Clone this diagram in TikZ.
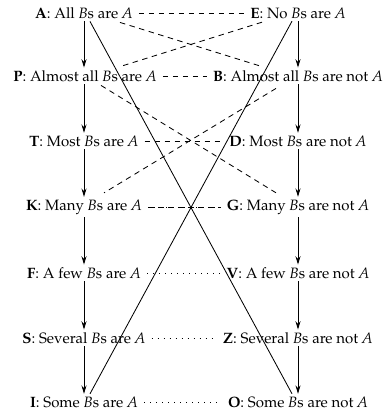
\documentclass[tikz,border=0pt]{standalone}
\usepackage[T1]{fontenc}
\usepackage{mathpazo}
\usepackage{tikz}
\usetikzlibrary{arrows.meta,positioning,calc}

\begin{document}
\begin{tikzpicture}[x=0.6pt, y=-0.6pt,
    stmt/.style={inner sep=1.5pt, font=\fontsize{9}{10}\selectfont},
    imp/.style={-{Stealth[length=5pt, width=3pt]}, line width=0.5pt},
    cross/.style={line width=0.5pt},
    opp/.style={dash pattern=on 3.3pt off 2.7pt, line width=0.5pt},
    sub/.style={dash pattern=on 0.6pt off 3pt, line width=0.6pt, shorten <=2pt, shorten >=2pt}
]
    \useasboundingbox (0,0) rectangle (383,413);

    % Left column
    \node[stmt] (A) at (84, 13) {\textbf{A}: All \textit{B}s are \textit{A}};
    \node[stmt] (P) at (85, 76) {\textbf{P}: Almost all \textit{B}s are \textit{A}};
    \node[stmt] (T) at (84, 141) {\textbf{T}: Most \textit{B}s are \textit{A}};
    \node[stmt] (K) at (84, 207) {\textbf{K}: Many \textit{B}s are \textit{A}};
    \node[stmt] (F) at (84, 273) {\textbf{F}: A few \textit{B}s are \textit{A}};
    \node[stmt] (S) at (84, 338) {\textbf{S}: Several \textit{B}s are \textit{A}};
    \node[stmt] (I) at (84, 402) {\textbf{I}: Some \textit{B}s are \textit{A}};

    % Right column
    \node[stmt] (E) at (298, 13) {\textbf{E}: No \textit{B}s are \textit{A}};
    \node[stmt] (B) at (298, 76) {\textbf{B}: Almost all \textit{B}s are not \textit{A}};
    \node[stmt] (D) at (298, 141) {\textbf{D}: Most \textit{B}s are not \textit{A}};
    \node[stmt] (G) at (298, 207) {\textbf{G}: Many \textit{B}s are not \textit{A}};
    \node[stmt] (V) at (298, 273) {\textbf{V}: A few \textit{B}s are not \textit{A}};
    \node[stmt] (Z) at (298, 338) {\textbf{Z}: Several \textit{B}s are not \textit{A}};
    \node[stmt] (O) at (298, 402) {\textbf{O}: Some \textit{B}s are not \textit{A}};

    % Implications
    \foreach \u/\l in {T/K, K/F, F/S, S/I, E/B, B/D, D/G, G/V, V/Z, Z/O}
        \draw[imp] (\u) -- (\l);
    \draw[imp] (A.south) -- (A.south |- P.north);
    \draw[imp] (A.south |- P.south) -- (T.north);

    % Contradictories
    \draw[cross] ($(A.south)+(6,0)$) -- ($(O.north)+(-6,0)$);
    \draw[cross] ($(E.south)+(-6,0)$) -- ($(I.north)+(6,0)$);

    % Contraries
    \draw[opp, shorten <=2pt, shorten >=2pt] (A) -- (E);
    \draw[opp, shorten <=2pt, shorten >=2pt] (P) -- (B);
    \draw[opp, shorten <=2pt, shorten >=2pt] (T) -- (D);
    \draw[opp] ($(A.south)+(36,1)$) -- ($(B.north)+(-36,-1)$);
    \draw[opp] ($(E.south)+(-36,1)$) -- ($(P.north)+(35,-1)$);
    \draw[opp] ($(P.south)+(16,1)$) -- ($(G.north)+(-22,-4)$);
    \draw[opp] ($(B.south)+(-22,4)$) -- ($(K.north)+(20,-4)$);

    % Subcontraries
    \draw[opp, shorten <=2pt, shorten >=2pt] (K) -- (G);
    \draw[sub] (K) -- (G);
    \draw[sub] (F) -- (V);
    \draw[sub] (S) -- (Z);
    \draw[sub] (I) -- (O);
\end{tikzpicture}
\end{document}
